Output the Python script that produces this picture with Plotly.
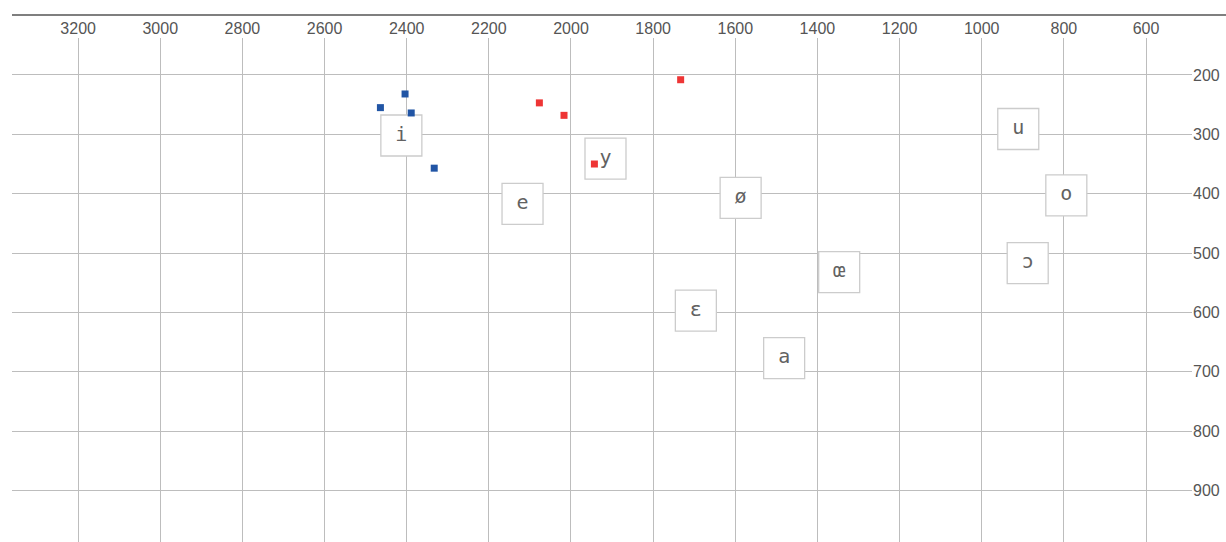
import plotly.graph_objects as go

# Vowel reference labels (F2, F1)
vowels = ["i", "y", "e", "ø", "u", "o", "ɔ", "œ", "ɛ", "a"]
vowel_f2 = [2413, 1916, 2118, 1587, 911, 794, 888, 1347, 1696, 1481]
vowel_f1 = [302, 341, 417, 407, 291, 403, 517, 532, 597, 677]

# Measured tokens
blue_f2 = [2404, 2464, 2389, 2333]
blue_f1 = [232, 255, 264, 357]
red_f2 = [2077, 2017, 1943, 1733]
red_f1 = [247, 268, 350, 208]

x_ticks = list(range(600, 3201, 200))
y_ticks = list(range(200, 901, 100))

W, H = 1226, 542
ML, MR, MT, MB = 12, 34, 38, 0

fig = go.Figure()

# label boxes as pixel-sized shapes below traces
for vx, vy in zip(vowel_f2, vowel_f1):
    fig.add_shape(type="rect", xref="x", yref="y",
                  xsizemode="pixel", ysizemode="pixel",
                  xanchor=vx, yanchor=vy,
                  x0=-20.5, x1=20.5, y0=-20.5, y1=20.5,
                  fillcolor="white", line=dict(color="#cccccc", width=1.3),
                  layer="between")

fig.add_trace(go.Scatter(x=vowel_f2, y=vowel_f1, mode="text", text=vowels,
                         textposition="middle center",
                         textfont=dict(family="DejaVu Sans Mono", size=20, color="#626262"),
                         hoverinfo="skip", showlegend=False))

fig.add_trace(go.Scatter(x=blue_f2, y=blue_f1, mode="markers",
                         marker=dict(symbol="square", size=7, color="#2155a5"),
                         showlegend=False))
fig.add_trace(go.Scatter(x=red_f2, y=red_f1, mode="markers",
                         marker=dict(symbol="square", size=7, color="#ee3535"),
                         showlegend=False))

plot_w = W - ML - MR
plot_h = H - MT - MB
fig.add_shape(type="line", xref="paper", yref="paper",
              x0=0, x1=(W - ML) / plot_w, y0=1 + 23 / plot_h, y1=1 + 23 / plot_h,
              line=dict(color="#555555", width=1.5), layer="above")

tickfont = dict(family="Liberation Sans, Arial, sans-serif", size=16, color="#555555")
fig.update_layout(
    width=W, height=H,
    margin=dict(l=ML, r=MR, t=MT, b=MB, pad=0),
    plot_bgcolor="white", paper_bgcolor="white",
    xaxis=dict(side="top", range=[3361, 488], tickvals=x_ticks,
               showgrid=True, gridcolor="#bdbdbd", gridwidth=1,
               zeroline=False, showline=False, ticks="",
               tickfont=tickfont),
    yaxis=dict(side="right", range=[986.8, 137.7], tickvals=y_ticks,
               showgrid=True, gridcolor="#bdbdbd", gridwidth=1,
               zeroline=False, showline=False, ticks="",
               tickfont=tickfont),
)

fig.write_html("out.html", config={"displayModeBar": False},
               post_script="document.body.style.margin='0';document.body.style.overflow='hidden';")
